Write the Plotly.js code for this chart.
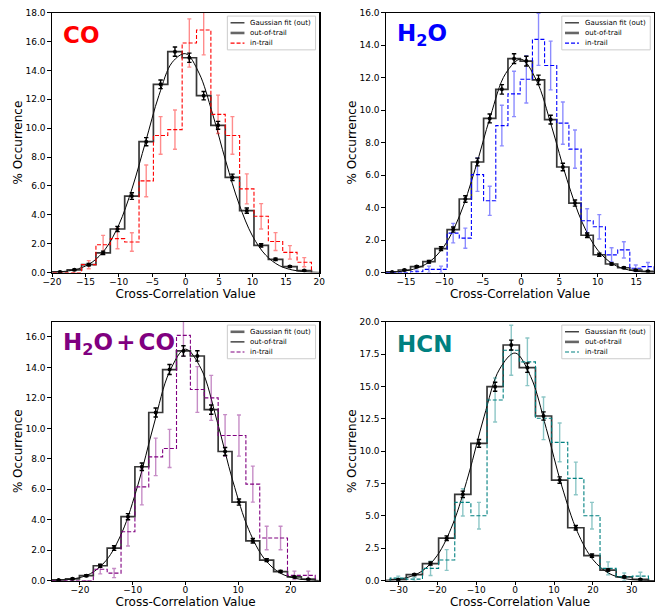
<!DOCTYPE html>
<html>
<head>
<meta charset="utf-8">
<script src="https://cdn.plot.ly/plotly-3.0.1.min.js"></script>
<style>
  html, body { margin: 0; padding: 0; background: #ffffff; }
  #chart { width: 663px; height: 612px; }
</style>
</head>
<body>
<div id="chart"></div>
<script>
// ---------------- DATA ----------------
// CO panel
const coBins   = [-18.8, -16.65, -14.5, -12.35, -10.2, -8.05, -5.9, -3.75, -1.6, 0.55, 2.7, 4.85, 7.0, 9.15, 11.3, 13.45, 15.6, 17.75];
const coOut    = [0.05, 0.19, 0.55, 1.37, 3.02, 5.3, 9.07, 13.04, 15.3, 14.88, 12.25, 10.2, 6.6, 4.29, 1.89, 0.92, 0.42, 0.14];
const coOutErr = [0.03, 0.05, 0.08, 0.12, 0.18, 0.23, 0.28, 0.3, 0.32, 0.32, 0.29, 0.27, 0.22, 0.18, 0.12, 0.08, 0.06, 0.04];
const coIn     = [0, 0, 0.55, 1.93, 2.35, 2.12, 6.35, 9.5, 9.9, 15.9, 16.8, 10.96, 9.5, 5.8, 3.9, 2.15, 1.4, 0.72];
const coInErr  = [0, 0, 0.28, 0.65, 0.7, 0.64, 1.1, 1.3, 1.36, 1.67, 1.72, 1.33, 1.3, 1.04, 0.88, 0.62, 0.47, 0.32];
const coFitX   = [-20, -18, -16, -14, -12, -10, -8, -6, -4, -2, 0, 2, 4, 6, 8, 10, 12, 14, 16, 18, 20];
const coFitY   = [0.027, 0.091, 0.272, 0.715, 1.64, 3.31, 5.85, 9.05, 12.27, 14.57, 15.16, 13.82, 11.04, 7.72, 4.74, 2.54, 1.20, 0.49, 0.178, 0.056, 0.016];

// H2O panel
const h2oBins   = [-16.8, -15.2, -13.6, -12.0, -10.43, -8.84, -7.26, -5.68, -4.08, -2.5, -0.91, 0.69, 2.28, 3.86, 5.45, 7.03, 8.62, 10.2, 11.8, 13.4, 14.95, 16.54];
const h2oOut    = [0.04, 0.16, 0.37, 0.67, 1.47, 2.65, 4.53, 6.81, 9.49, 11.28, 13.17, 13.02, 11.87, 9.42, 6.5, 4.28, 2.3, 1.1, 0.53, 0.3, 0.15, 0.08];
const h2oOutErr = [0.02, 0.04, 0.06, 0.08, 0.12, 0.16, 0.2, 0.24, 0.27, 0.29, 0.3, 0.3, 0.29, 0.27, 0.23, 0.19, 0.14, 0.1, 0.07, 0.05, 0.04, 0.03];
const h2oIn     = [0, 0, 0.05, 0.2, 0.2, 2.43, 2.12, 6.03, 4.42, 9.05, 11.0, 11.9, 14.36, 12.75, 9.2, 7.6, 3.19, 2.82, 1.09, 1.4, 0.27, 0.37];
const h2oInErr  = [0, 0, 0.1, 0.2, 0.2, 0.6, 0.62, 1.03, 0.9, 1.25, 1.4, 1.46, 1.6, 1.5, 1.3, 1.18, 0.74, 0.75, 0.44, 0.5, 0.2, 0.25];
const h2oFitX   = [-18, -16, -14, -12, -10, -8, -6, -4, -2, 0, 2, 4, 6, 8, 10, 12, 14, 16, 18];
const h2oFitY   = [0.014, 0.058, 0.211, 0.64, 1.64, 3.51, 6.34, 9.61, 12.26, 13.14, 11.84, 8.97, 5.71, 3.06, 1.38, 0.52, 0.165, 0.044, 0.010];

// H2O + CO panel
const mixBins   = [-24.04, -21.41, -18.78, -16.15, -13.52, -10.89, -8.26, -5.63, -3.0, -0.37, 2.27, 4.9, 7.53, 10.16, 12.79, 15.42, 18.05, 20.68, 23.31];
const mixOut    = [0.05, 0.12, 0.33, 0.98, 2.14, 4.2, 7.48, 11.04, 13.86, 15.08, 14.75, 11.23, 8.48, 5.16, 2.62, 1.35, 0.6, 0.25, 0.1];
const mixOutErr = [0.02, 0.04, 0.06, 0.1, 0.15, 0.2, 0.25, 0.3, 0.33, 0.34, 0.34, 0.3, 0.26, 0.2, 0.15, 0.1, 0.07, 0.05, 0.03];
const mixIn     = [0, 0, 0, 0.75, 0.5, 3.21, 6.16, 8.13, 8.68, 16.1, 12.55, 12.0, 9.53, 9.53, 6.34, 2.8, 2.8, 0.35, 0.35];
const mixInErr  = [0, 0, 0, 0.3, 0.3, 0.93, 1.18, 1.23, 1.25, 1.37, 1.5, 1.48, 1.37, 1.35, 1.18, 0.77, 0.77, 0.28, 0.28];
const mixFitX   = [-27, -24, -21, -18, -15, -12, -9, -6, -3, 0, 3, 6, 9, 12, 15, 18, 21, 24, 27];
const mixFitY   = [0.006, 0.031, 0.132, 0.463, 1.339, 3.19, 6.29, 10.22, 13.72, 15.2, 13.9, 10.49, 6.54, 3.36, 1.43, 0.50, 0.145, 0.035, 0.007];

// HCN panel
const hcnBins   = [-30.05, -25.9, -21.75, -17.6, -13.45, -9.3, -5.15, -1.0, 3.15, 7.3, 11.45, 15.6, 19.75, 23.9, 28.05, 32.2];
const hcnOut    = [0.08, 0.47, 1.32, 3.28, 6.67, 10.6, 14.98, 18.2, 16.45, 12.72, 7.77, 4.09, 1.93, 0.82, 0.3, 0.1];
const hcnOutErr = [0.03, 0.07, 0.12, 0.18, 0.25, 0.3, 0.35, 0.38, 0.36, 0.32, 0.25, 0.18, 0.13, 0.08, 0.05, 0.03];
const hcnIn     = [0.2, 0.12, 0.95, 1.6, 6.05, 5.02, 13.95, 17.8, 16.9, 12.54, 10.68, 7.9, 5.02, 0.95, 0.3, 0.35];
const hcnInErr  = [0.15, 0.15, 0.55, 0.8, 1.05, 1.03, 1.7, 1.93, 1.84, 1.65, 1.5, 1.26, 1.03, 0.5, 0.3, 0.3];
const hcnFitX   = [-36, -32, -28, -24, -20, -16, -12, -8, -4, 0, 4, 8, 12, 16, 20, 24, 28, 32, 36];
const hcnFitY   = [0.013, 0.059, 0.227, 0.730, 1.959, 4.38, 8.16, 12.65, 16.34, 17.58, 15.76, 11.76, 7.31, 3.78, 1.632, 0.586, 0.175, 0.044, 0.009];

const panelNames   = ['CO', 'H<sub>2</sub>O', 'H<sub>2</sub>O + CO', 'HCN'];
const legendLabels = ['Gaussian fit (out)', 'out-of-trail', 'in-trail'];
const xTitle = 'Cross-Correlation Value';
const yTitle = '% Occurrence';

// ---------------- STYLE / LAYOUT ----------------
const W = 663, H = 612;
const panels = [
  {bins: coBins,  out: coOut,  outErr: coOutErr,  inn: coIn,  innErr: coInErr,  fx: coFitX,  fy: coFitY,
   color: '#ff0000', err: 'rgba(255,0,0,0.45)', px: [52, 319.3], py: [12.7, 272.6], xr: [-20, 20], yr: [0, 18], xdt: 5, ydt: 2, swapLeg: false},
  {bins: h2oBins, out: h2oOut, outErr: h2oOutErr, inn: h2oIn, innErr: h2oInErr, fx: h2oFitX, fy: h2oFitY,
   color: '#0000ff', err: 'rgba(0,0,255,0.45)', px: [386, 654], py: [12.7, 272.6], xr: [-17.6, 17.33], yr: [0, 16], xdt: 5, ydt: 2, swapLeg: false},
  {bins: mixBins, out: mixOut, outErr: mixOutErr, inn: mixIn, innErr: mixInErr, fx: mixFitX, fy: mixFitY,
   color: '#800080', err: 'rgba(128,0,128,0.45)', px: [52, 319.3], py: [321.7, 580.7], xr: [-25.3, 25.4], yr: [0, 17], xdt: 10, ydt: 2, swapLeg: true},
  {bins: hcnBins, out: hcnOut, outErr: hcnOutErr, inn: hcnIn, innErr: hcnInErr, fx: hcnFitX, fy: hcnFitY,
   color: '#008080', err: 'rgba(0,128,128,0.45)', px: [386, 654], py: [321.7, 580.7], xr: [-33.2, 35.7], yr: [0, 20], xdt: 10, ydt: 2.5, swapLeg: false}
];

function stepXY(centers, vals) {
  const hw = (centers[1] - centers[0]) / 2;
  const n = centers.length;
  const xs = [centers[0] - hw, centers[0] - hw].concat(centers, [centers[n-1] + hw, centers[n-1] + hw]);
  const ys = [0, vals[0]].concat(vals, [vals[n-1], 0]);
  return {xs, ys};
}

const FONT = 'DejaVu Sans, Liberation Sans, sans-serif';
const traces = [];
const layout = {
  width: W, height: H,
  margin: {l: 0, r: 0, t: 0, b: 0},
  paper_bgcolor: '#ffffff', plot_bgcolor: '#ffffff',
  font: {family: FONT, color: '#000000', size: 9},
  showlegend: false,
  annotations: [],
  shapes: []
};

const fitLine   = {color: '#000000', width: 1};
const outLine   = {color: 'rgba(20,20,20,0.85)', width: 1.7};
const thickLeg  = {color: 'rgba(0,0,0,0.6)', width: 2.6};
const thinLeg   = {color: '#000000', width: 1.1};

panels.forEach((p, i) => {
  const k = i + 1;
  const xa = k === 1 ? 'x' : 'x' + k;
  const ya = k === 1 ? 'y' : 'y' + k;

  traces.push({
    type: 'scatter', mode: 'lines', x: p.fx, y: p.fy, xaxis: xa, yaxis: ya,
    name: legendLabels[0], line: Object.assign({shape: 'spline', smoothing: 1}, fitLine), hoverinfo: 'skip'
  });
  const so = stepXY(p.bins, p.out);
  traces.push({
    type: 'scatter', mode: 'lines', x: so.xs, y: so.ys, xaxis: xa, yaxis: ya,
    name: legendLabels[1], line: Object.assign({shape: 'hvh'}, outLine), hoverinfo: 'skip'
  });
  const si = stepXY(p.bins, p.inn);
  traces.push({
    type: 'scatter', mode: 'lines', x: si.xs, y: si.ys, xaxis: xa, yaxis: ya,
    name: legendLabels[2], line: {color: p.color, width: 1.1, shape: 'hvh', dash: '4px,2px'}, hoverinfo: 'skip'
  });
  traces.push({
    type: 'scatter', mode: 'markers', x: p.bins, y: p.inn, xaxis: xa, yaxis: ya,
    name: legendLabels[2] + ' errors',
    marker: {size: 1, color: 'rgba(0,0,0,0)'},
    error_y: {type: 'data', array: p.innErr, visible: true, color: p.err, thickness: 1.4, width: 2},
    hoverinfo: 'skip'
  });
  traces.push({
    type: 'scatter', mode: 'markers', x: p.bins, y: p.out, xaxis: xa, yaxis: ya,
    name: legendLabels[1] + ' errors',
    marker: {size: 4, color: '#000000'},
    error_y: {type: 'data', array: p.outErr, visible: true, color: '#000000', thickness: 1.4, width: 2.2},
    hoverinfo: 'skip'
  });

  const axCommon = {
    showline: true, mirror: true, linecolor: '#000000', linewidth: 1.2,
    ticks: 'outside', ticklen: 3.5, tickwidth: 1, tickcolor: '#000000',
    showgrid: false, zeroline: false, automargin: false,
    tickfont: {family: FONT, size: 9, color: '#000000'}
  };
  layout['xaxis' + (k === 1 ? '' : k)] = Object.assign({}, axCommon, {
    domain: [p.px[0] / W, p.px[1] / W], anchor: ya, range: p.xr, dtick: p.xdt, tick0: 0,
    ticklabelstandoff: -3,
    title: {text: xTitle, font: {family: FONT, size: 12, color: '#000000'}, standoff: 1}
  });
  layout['yaxis' + (k === 1 ? '' : k)] = Object.assign({}, axCommon, {
    domain: [1 - p.py[1] / H, 1 - p.py[0] / H], anchor: xa, range: p.yr, dtick: p.ydt, tick0: 0,
    tickformat: '.1f',
    title: {text: yTitle, font: {family: FONT, size: 12, color: '#000000'}, standoff: 0}
  });

  // panel label
  layout.annotations.push({
    xref: xa + ' domain', yref: ya + ' domain', x: 0.035, y: 0.915,
    xanchor: 'left', yanchor: 'middle', showarrow: false,
    text: '<b>' + panelNames[i].replace(/ /g, '<span style="font-size:9px"> </span>') + '</b>',
    font: {family: FONT, size: 23, color: p.color}
  });

  // legend box (drawn in the axis-domain frame of each panel)
  const dx = xa + ' domain', dy = ya + ' domain';
  layout.shapes.push({
    type: 'rect', xref: dx, yref: dy, x0: 0.656, x1: 0.986, y0: 0.857, y1: 0.987,
    fillcolor: 'rgba(255,255,255,0.85)', line: {color: '#cccccc', width: 1}, layer: 'above'
  });
  const rows = [0.961, 0.922, 0.883];
  const legStyles = [
    p.swapLeg ? thickLeg : thinLeg,
    p.swapLeg ? thinLeg : thickLeg,
    {color: p.color, width: 1.1, dash: '4px,2px'}
  ];
  legendLabels.forEach((lab, j) => {
    layout.shapes.push({
      type: 'line', xref: dx, yref: dy, x0: 0.668, x1: 0.72, y0: rows[j], y1: rows[j],
      line: legStyles[j], layer: 'above'
    });
    layout.annotations.push({
      xref: dx, yref: dy, x: 0.735, y: rows[j], xanchor: 'left', yanchor: 'middle',
      showarrow: false, text: lab, font: {family: FONT, size: 7, color: '#000000'}
    });
  });
});

Plotly.newPlot('chart', traces, layout, {staticPlot: true, displayModeBar: false});
</script>
</body>
</html>
